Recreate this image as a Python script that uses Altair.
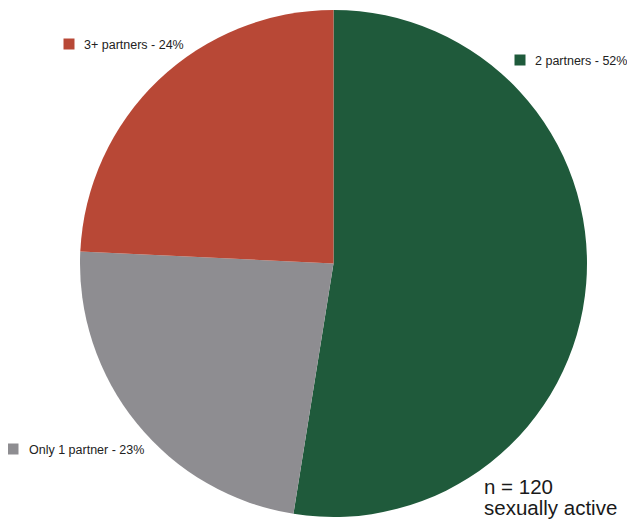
import altair as alt
import pandas as pd

categories = ["2 partners", "Only 1 partner", "3+ partners"]
percents = [52, 23, 24]
labels = ["2 partners - 52%", "Only 1 partner - 23%", "3+ partners - 24%"]
colors = ["#1f5a3b", "#8e8d91", "#b84836"]
note_lines = ["n = 120", "sexually active"]

df = pd.DataFrame({"category": categories, "pct": percents, "order": [0, 1, 2]})

OX, OY = 8, 8  # page margin offset
cx, cy, r = 333.5 - OX, 263.5 - OY, 253.5

pie = alt.Chart(df).mark_arc(stroke=None).encode(
    theta=alt.Theta("pct:Q", stack=True),
    order=alt.Order("order:Q"),
    color=alt.Color("category:N", scale=alt.Scale(domain=categories, range=colors), legend=None),
    x=alt.value(cx), y=alt.value(cy), radius=alt.value(r),
)

# label layout (image coordinates): square centre, text start, text baseline
layout = {
    "2 partners": (520, 60, 535, 65),
    "Only 1 partner": (13, 449, 29, 454),
    "3+ partners": (69, 44, 84, 49),
}

layers = [pie]
for cat, lab, col in zip(categories, labels, colors):
    sx, sy, tx, ty = layout[cat]
    d = pd.DataFrame({"label": [lab]})
    layers.append(alt.Chart(d).mark_square(size=121, color=col, opacity=1).encode(
        x=alt.value(sx - OX), y=alt.value(sy - OY)))
    layers.append(alt.Chart(d).mark_text(align="left", baseline="alphabetic", fontSize=12.5,
                                         font="Liberation Sans", color="#222222").encode(
        text="label:N", x=alt.value(tx - OX), y=alt.value(ty - OY)))

for line, by in zip(note_lines, [494, 515]):
    d = pd.DataFrame({"t": [line]})
    layers.append(alt.Chart(d).mark_text(align="left", baseline="alphabetic", fontSize=20.5,
                                         font="Liberation Sans", color="#1a1a1a").encode(
        text="t:N", x=alt.value(484 - OX), y=alt.value(by - OY)))

chart = alt.layer(*layers).properties(
    width=619, height=512, padding=0,
    autosize=alt.AutoSizeParams(type="none"),
    background="white",
).configure_view(stroke=None)

chart.save("out.html", embed_options={"renderer": "svg", "actions": False})
